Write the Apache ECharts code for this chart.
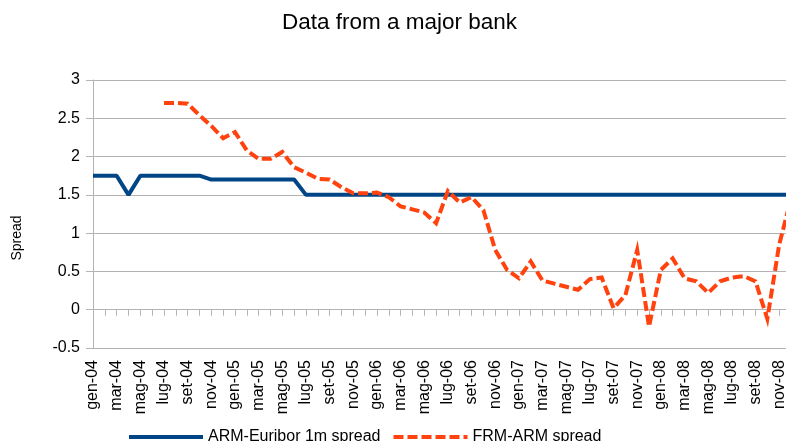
<!DOCTYPE html>
<html>
<head>
<meta charset="utf-8">
<script src="https://cdn.jsdelivr.net/npm/echarts@6/dist/echarts.min.js"></script>
<style>
  html, body { margin: 0; padding: 0; background: #fff; }
  #chart { width: 786px; height: 441px; }
</style>
</head>
<body>
<div id="chart"></div>
<script>
// mesi e anni per le etichette (gen-04 ... dic-08)
var months = ['gen', 'feb', 'mar', 'apr', 'mag', 'giu', 'lug', 'ago', 'set', 'ott', 'nov', 'dic'];
var years = ['04', '05', '06', '07', '08'];
var categories = [];
years.forEach(function (y) {
  months.forEach(function (m) { categories.push(m + '-' + y); });
});

var yTicks = [-0.5, 0, 0.5, 1, 1.5, 2, 2.5, 3];

var armEuribor = [
  1.75, 1.75, 1.75, 1.5, 1.75, 1.75, 1.75, 1.75, 1.75, 1.75, 1.7, 1.7,
  1.7, 1.7, 1.7, 1.7, 1.7, 1.7, 1.5, 1.5, 1.5, 1.5, 1.5, 1.5,
  1.5, 1.5, 1.5, 1.5, 1.5, 1.5, 1.5, 1.5, 1.5, 1.5, 1.5, 1.5,
  1.5, 1.5, 1.5, 1.5, 1.5, 1.5, 1.5, 1.5, 1.5, 1.5, 1.5, 1.5,
  1.5, 1.5, 1.5, 1.5, 1.5, 1.5, 1.5, 1.5, 1.5, 1.5, 1.5, 1.5
];

var frmArm = [
  null, null, null, null, null, null, 2.7, 2.7, 2.69, 2.54, 2.4, 2.24,
  2.32, 2.08, 1.97, 1.97, 2.06, 1.86, 1.79, 1.71, 1.7, 1.6, 1.52, 1.52,
  1.53, 1.47, 1.35, 1.31, 1.27, 1.13, 1.55, 1.4, 1.47, 1.3, 0.78, 0.52,
  0.41, 0.63, 0.38, 0.34, 0.3, 0.26, 0.4, 0.42, 0.02, 0.19, 0.78, -0.22,
  0.52, 0.67, 0.41, 0.37, 0.22, 0.37, 0.42, 0.44, 0.37, -0.12, 0.85, 1.45
];

var seriesNames = ['ARM-Euribor 1m spread', 'FRM-ARM spread'];
var gridColor = '#b3b3b3';

var myChart = echarts.init(document.getElementById('chart'), null, { renderer: 'canvas' });
var option = {
  animation: false,
  textStyle: { fontFamily: 'Liberation Sans' },
  title: {
    text: 'Data from a major bank',
    left: 277,
    top: 6,
    textStyle: { fontSize: 22.5, fontWeight: 'normal', color: '#000', fontFamily: 'Liberation Sans' }
  },
  legend: {
    data: seriesNames,
    left: 122,
    top: 424,
    itemWidth: 74,
    itemHeight: 16,
    itemGap: 11,
    itemStyle: { opacity: 0 },
    lineStyle: { width: 4 },
    textStyle: { fontSize: 16, color: '#000' }
  },
  // niente ridimensionamento automatico per le etichette
  grid: { left: 93, top: 80, width: 698, height: 268, outerBoundsMode: 'none', containLabel: false },
  xAxis: {
    type: 'category',
    boundaryGap: false,
    data: categories,
    axisLine: { onZero: true, lineStyle: { color: gridColor, width: 1 } },
    axisTick: { interval: 0, length: 6, lineStyle: { color: gridColor } },
    axisLabel: { interval: 1, rotate: 90, fontSize: 16, color: '#000', margin: 12 },
    splitLine: { show: false }
  },
  yAxis: {
    type: 'value',
    min: yTicks[0],
    max: yTicks[yTicks.length - 1],
    interval: 0.5,
    name: 'Spread',
    nameLocation: 'middle',
    nameRotate: 90,
    nameGap: 69,
    // spostato un po' in basso come nell'originale
    nameTextStyle: { fontSize: 14, color: '#000', padding: [0, 48, 0, 0] },
    axisLine: { show: true, lineStyle: { color: gridColor } },
    axisTick: { show: true, length: 7, lineStyle: { color: gridColor } },
    axisLabel: { fontSize: 16, color: '#000', margin: 13 },
    splitLine: { lineStyle: { color: gridColor } }
  },
  series: [
    {
      name: seriesNames[0],
      type: 'line',
      data: armEuribor,
      symbol: 'none',
      color: '#004586',
      lineStyle: { width: 4, color: '#004586' }
    },
    {
      name: seriesNames[1],
      type: 'line',
      data: frmArm,
      symbol: 'none',
      color: '#ff420e',
      lineStyle: { width: 4, color: '#ff420e', type: [10, 4], join: 'miter' }
    }
  ]
};
myChart.setOption(option);
</script>
</body>
</html>
